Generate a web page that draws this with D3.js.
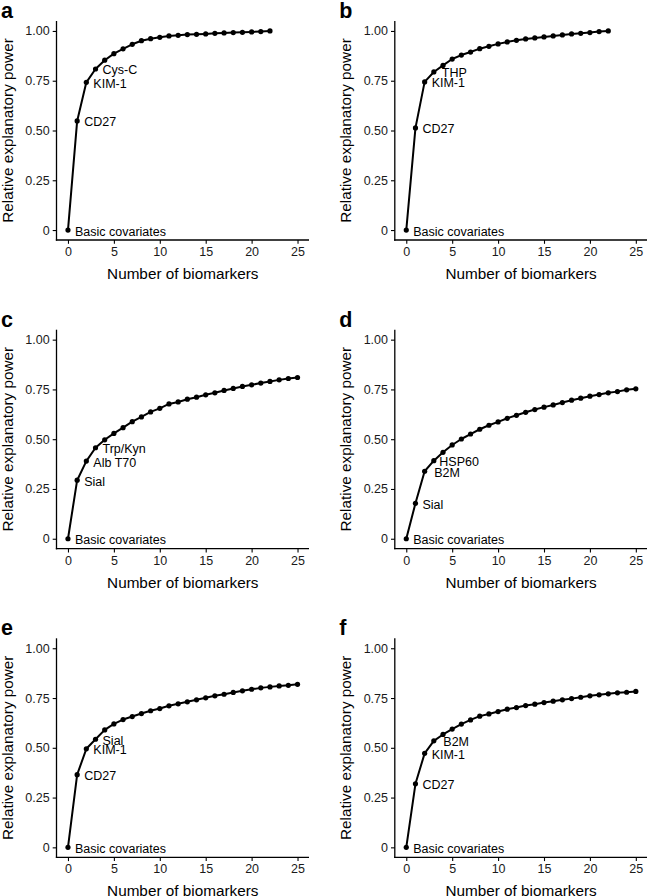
<!DOCTYPE html>
<html>
<head>
<meta charset="utf-8">
<script src="https://cdn.jsdelivr.net/npm/d3@7"></script>
<style>
  html, body { margin: 0; padding: 0; background: #fff; }
  svg { display: block; }
  text { font-family: "Liberation Sans", Arial, Helvetica, sans-serif; }
</style>
</head>
<body>
<div id="chart"></div>
<script>
// ---------- data ----------
const panelLetters = ["a", "b", "c", "d", "e", "f"];
const xTicks = [0, 5, 10, 15, 20, 25];
const yTicks = [0, 0.25, 0.5, 0.75, 1.0];
const yTickLabels = ["0", "0.25", "0.50", "0.75", "1.00"];
const xTitle = "Number of biomarkers";
const yTitle = "Relative explanatory power";

const seriesA = [0, 0.548, 0.742, 0.809, 0.853, 0.886, 0.910, 0.933, 0.951, 0.961, 0.968, 0.975,
  0.978, 0.982, 0.983, 0.985, 0.988, 0.990, 0.992, 0.993, 0.995, 0.997, 1.0];
const seriesB = [0, 0.513, 0.744, 0.794, 0.827, 0.859, 0.879, 0.894, 0.911, 0.923, 0.935, 0.945,
  0.953, 0.960, 0.965, 0.970, 0.975, 0.980, 0.985, 0.988, 0.992, 0.997, 1.0];
const seriesC = [0, 0.294, 0.390, 0.457, 0.497, 0.529, 0.558, 0.588, 0.612, 0.637, 0.655, 0.677,
  0.687, 0.701, 0.711, 0.723, 0.733, 0.745, 0.755, 0.765, 0.773, 0.782, 0.790, 0.798, 0.805, 0.810];
const seriesD = [0, 0.178, 0.339, 0.392, 0.434, 0.471, 0.501, 0.526, 0.550, 0.570, 0.587, 0.605,
  0.620, 0.635, 0.649, 0.661, 0.672, 0.684, 0.696, 0.706, 0.716, 0.724, 0.733, 0.739, 0.748, 0.753];
const seriesE = [0, 0.365, 0.495, 0.543, 0.590, 0.620, 0.642, 0.657, 0.672, 0.686, 0.697, 0.711,
  0.721, 0.731, 0.741, 0.751, 0.761, 0.769, 0.778, 0.786, 0.794, 0.801, 0.806, 0.811, 0.814, 0.819];
const seriesF = [0, 0.319, 0.472, 0.535, 0.567, 0.594, 0.619, 0.640, 0.659, 0.670, 0.682, 0.694,
  0.702, 0.712, 0.719, 0.727, 0.734, 0.741, 0.747, 0.754, 0.761, 0.766, 0.771, 0.776, 0.779, 0.783];

// point labels: label i belongs to point i (number of biomarkers = i)
const labelsA = ["Basic covariates", "CD27", "KIM-1", "Cys-C"];
const labelsB = ["Basic covariates", "CD27", "KIM-1", "THP"];
const labelsC = ["Basic covariates", "Sial", "Alb T70", "Trp/Kyn"];
const labelsD = ["Basic covariates", "Sial", "B2M", "HSP60"];
const labelsE = ["Basic covariates", "CD27", "KIM-1", "Sial"];
const labelsF = ["Basic covariates", "CD27", "KIM-1", "B2M"];

// ---------- layout / style (not data) ----------
const W = 647, H = 896;
const colOffset = [0, 338.3];
const rowOffset = [0, 308.7, 617.3];
const plotLeft = 56.5, plotWidth = 252.5, plotTop = 21, plotHeight = 219;
const labelDx = [
  [7, 7, 7, 7],
  [7, 7, 7, 8],
  [7, 7, 7, 7],
  [7, 7, 9.5, 5.5],
  [7, 7, 7, 7],
  [7, 7, 7, 9.5]
];
const FONT_TICK = 12.5, FONT_TITLE = 15.3, FONT_LABEL = 12.5, FONT_LETTER = 21.5;

const allSeries = [seriesA, seriesB, seriesC, seriesD, seriesE, seriesF];
const allLabels = [labelsA, labelsB, labelsC, labelsD, labelsE, labelsF];

const svg = d3.select("#chart").append("svg")
  .attr("width", W).attr("height", H);

allSeries.forEach((series, p) => {
  const col = p % 2, row = Math.floor(p / 2);
  const g = svg.append("g")
    .attr("transform", `translate(${colOffset[col]},${rowOffset[row]})`);

  const x = d3.scaleLinear().domain([-1.25, 26.25])
    .range([plotLeft, plotLeft + plotWidth]);
  const y = d3.scaleLinear().domain([-0.05, 1.05])
    .range([plotTop + plotHeight, plotTop]);

  // panel letter
  g.append("text")
    .attr("x", 1).attr("y", 18)
    .attr("font-size", FONT_LETTER).attr("font-weight", "bold")
    .attr("fill", "#000")
    .text(panelLetters[p]);

  // y axis
  const yAxis = d3.axisLeft(y).tickValues(yTicks)
    .tickFormat((d, i) => yTickLabels[i]).tickSize(3.8).tickPadding(3);
  const gy = g.append("g").attr("transform", `translate(${plotLeft},0)`).call(yAxis);
  // x axis
  const xAxis = d3.axisBottom(x).tickValues(xTicks)
    .tickFormat(d3.format("d")).tickSize(3.8).tickPadding(3.5);
  const gx = g.append("g").attr("transform", `translate(0,${plotTop + plotHeight})`).call(xAxis);

  [gx, gy].forEach(a => {
    a.select(".domain").attr("stroke", "#000").attr("stroke-width", 1.3)
      .attr("d", null);
    a.selectAll(".tick line").attr("stroke", "#000").attr("stroke-width", 1.1);
    a.selectAll(".tick text").attr("font-size", FONT_TICK).attr("fill", "#1a1a1a")
      .attr("font-family", '"Liberation Sans", Arial, Helvetica, sans-serif');
  });
  // axis lines spanning full plot area (ggplot style)
  gy.select(".domain").attr("d", `M0,${plotTop}V${plotTop + plotHeight + 0.65}`);
  gx.select(".domain").attr("d", `M${plotLeft - 0.65},0H${plotLeft + plotWidth}`);

  // axis titles
  g.append("text")
    .attr("x", plotLeft + plotWidth / 2).attr("y", 279)
    .attr("text-anchor", "middle").attr("font-size", FONT_TITLE).attr("fill", "#000")
    .text(xTitle);
  g.append("text")
    .attr("transform", `translate(12.5,${plotTop + plotHeight / 2}) rotate(-90)`)
    .attr("text-anchor", "middle").attr("font-size", FONT_TITLE).attr("fill", "#000")
    .text(yTitle);

  const pts = series.map((v, i) => ({ n: i, v }));

  // line
  const line = d3.line().x(d => x(d.n)).y(d => y(d.v));
  g.append("path").datum(pts)
    .attr("d", line).attr("fill", "none")
    .attr("stroke", "#000").attr("stroke-width", 2).attr("stroke-linejoin", "round");

  // points
  g.selectAll("circle.pt").data(pts).enter().append("circle")
    .attr("class", "pt")
    .attr("cx", d => x(d.n)).attr("cy", d => y(d.v)).attr("r", 2.6)
    .attr("fill", "#000");

  // point labels
  g.selectAll("text.lbl").data(allLabels[p]).enter().append("text")
    .attr("class", "lbl")
    .attr("x", (d, i) => x(i) + labelDx[p][i])
    .attr("y", (d, i) => y(series[i]) + 5.5)
    .attr("font-size", FONT_LABEL).attr("fill", "#000")
    .text(d => d);
});
</script>
</body>
</html>
